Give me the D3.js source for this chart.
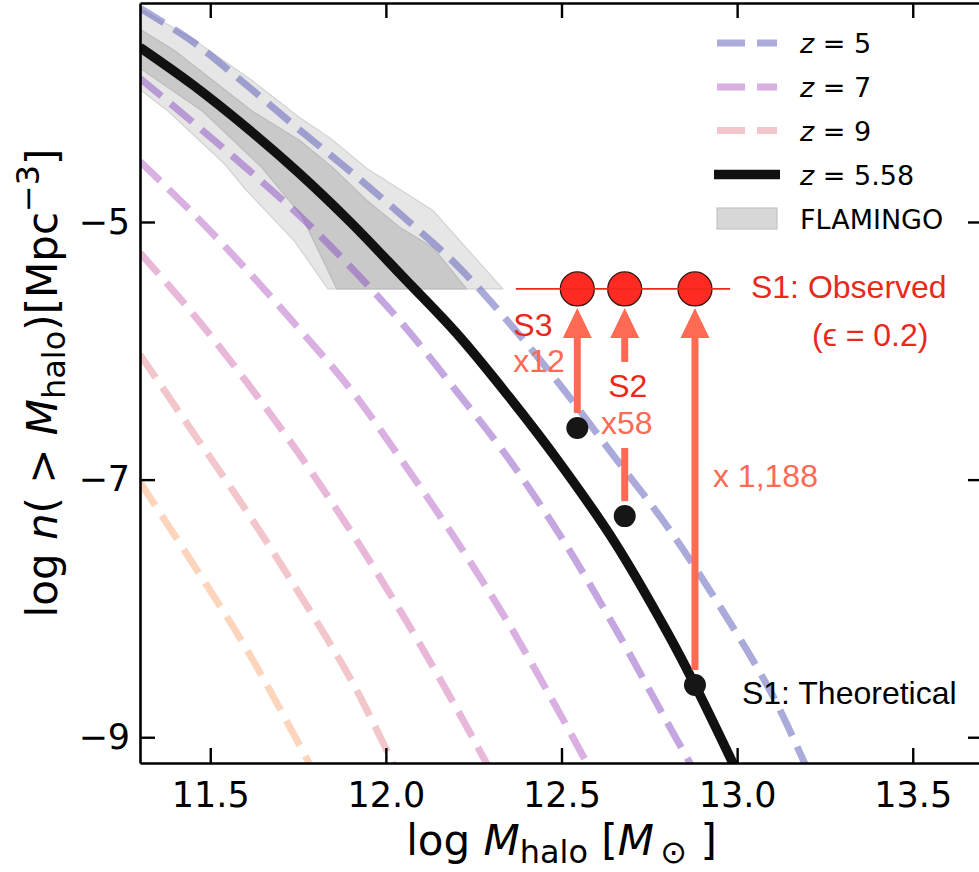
<!DOCTYPE html>
<html>
<head>
<meta charset="utf-8">
<script src="https://cdn.jsdelivr.net/npm/d3@7"></script>
<style>
  body { margin: 0; background: #fff; }
  svg { display: block; }
</style>
</head>
<body>
<svg id="chart" width="979" height="872"></svg>
<script>
// ---- Cumulative halo mass functions, log n(>M) [Mpc^-3] vs log M_halo [M_sun] ----
const massZ5  = [11.30, 11.45, 11.60, 11.75, 11.90, 12.05, 12.20, 12.35, 12.50, 12.65, 12.80, 12.95, 13.10, 13.20];
const densZ5  = [-3.34, -3.60, -3.93, -4.275, -4.61, -4.96, -5.33, -5.78, -6.28, -6.82, -7.36, -7.98, -8.67, -9.25];

const massZ6  = [11.30, 11.45, 11.60, 11.75, 11.90, 12.05, 12.20, 12.35, 12.50, 12.65, 12.80, 12.87];
const densZ6  = [-3.885, -4.225, -4.575, -4.94, -5.35, -5.80, -6.31, -6.84, -7.45, -8.14, -8.88, -9.22];

const massZ7  = [11.30, 11.45, 11.60, 11.75, 11.90, 12.05, 12.20, 12.35, 12.50, 12.58];
const densZ7  = [-4.53, -4.93, -5.36, -5.82, -6.30, -6.87, -7.47, -8.12, -8.84, -9.24];

const massZ8  = [11.30, 11.45, 11.60, 11.75, 11.90, 12.05, 12.20, 12.30];
const densZ8  = [-5.24, -5.71, -6.23, -6.79, -7.40, -8.06, -8.77, -9.27];

const massZ9  = [11.30, 11.45, 11.60, 11.75, 11.90, 12.02, 12.05];
const densZ9  = [-6.03, -6.63, -7.23, -7.87, -8.55, -9.20, -9.37];

const massZ10 = [11.30, 11.45, 11.60, 11.75, 11.80];
const densZ10 = [-7.02, -7.65, -8.30, -9.04, -9.30];

// z = 5.58 prediction
const massZ558 = [11.30, 11.45, 11.60, 11.75, 11.90, 12.05, 12.20, 12.35, 12.50, 12.65, 12.80, 12.88, 13.00];
const densZ558 = [-3.645, -3.935, -4.26, -4.614, -5.004, -5.43, -5.86, -6.355, -6.89, -7.48, -8.18, -8.595, -9.27];

// FLAMINGO ranges: [log M, log n] along the upper and lower edges
const flamingoOuterUpper = [[11.28, -3.31], [11.45, -3.58], [11.618, -3.90], [11.755, -4.19], [11.84, -4.345], [11.946, -4.585], [12.134, -4.911], [12.333, -5.52]];
const flamingoOuterLower = [[11.28, -3.93], [11.379, -4.136], [11.541, -4.55], [11.598, -4.74], [11.74, -5.15], [11.835, -5.52]];
const flamingoInnerUpper = [[11.28, -3.47], [11.399, -3.671], [11.618, -4.136], [11.755, -4.368], [11.849, -4.578], [11.946, -4.833], [12.04, -5.043], [12.134, -5.198], [12.23, -5.52]];
const flamingoInnerLower = [[11.28, -3.77], [11.476, -4.136], [11.647, -4.578], [11.76, -4.95], [11.86, -5.52]];

// Sources: observed abundance and the enhancement over the theoretical value
const sourceNames    = ["S3", "S2", "S1"];
const sourceMass     = [12.545, 12.68, 12.88];
const sourceFactor   = [12, 58, 1188];
const sourceFactorLabels = ["x12", "x58", "x 1,188"];
const observedLogN   = -5.52;
const observedSpan   = [12.37, 12.98];

// Axis ticks and legend entries
const xTicks = [11.5, 12.0, 12.5, 13.0, 13.5];
const yTicks = [-5, -7, -9];
const legendRedshifts = ["5", "7", "9"];

// ---------------- drawing ----------------
const svg = d3.select("#chart");
const box = { left: 140, top: 3, right: 983, bottom: 763 };

const x = d3.scaleLinear().domain([11.3, 13.7]).range([box.left, box.right]);
const y = d3.scaleLinear().domain([-9.2, -3.3]).range([box.bottom, box.top]);

svg.append("defs").append("clipPath").attr("id", "plotArea")
  .append("rect")
  .attr("x", box.left).attr("y", box.top)
  .attr("width", box.right - box.left).attr("height", box.bottom - box.top);

const plot = svg.append("g").attr("clip-path", "url(#plotArea)");

// FLAMINGO shaded ranges
const edge = d3.line().x(d => x(d[0])).y(d => y(d[1]));
function band(upper, lower, fill, stroke) {
  plot.append("path")
    .attr("d", edge(upper.concat(lower.slice().reverse())) + "Z")
    .attr("fill", fill).attr("stroke", stroke).attr("stroke-width", 1.2);
}
band(flamingoOuterUpper, flamingoOuterLower, "#e6e6e6", "#d3d3d3");
band(flamingoInnerUpper, flamingoInnerLower, "#c9c9c9", "#bcbcbc");

// dashed redshift curves
const curve = d3.line().x(d => x(d[0])).y(d => y(d[1])).curve(d3.curveCatmullRom.alpha(0.5));
const dashStyle = { width: 7, dash: "28,12", opacity: 0.5 };
const zCurves = [
  { m: massZ10, n: densZ10, color: "rgb(251,171,123)" },
  { m: massZ9,  n: densZ9,  color: "rgb(229,141,149)" },
  { m: massZ8,  n: densZ8,  color: "rgb(211,113,179)" },
  { m: massZ7,  n: densZ7,  color: "rgb(181,97,197)" },
  { m: massZ6,  n: densZ6,  color: "rgb(137,77,193)" },
  { m: massZ5,  n: densZ5,  color: "rgb(85,85,183)" }
];
zCurves.forEach(c => {
  plot.append("path")
    .attr("d", curve(d3.zip(c.m, c.n)))
    .attr("fill", "none")
    .attr("stroke", c.color)
    .attr("stroke-opacity", dashStyle.opacity)
    .attr("stroke-width", dashStyle.width)
    .attr("stroke-dasharray", dashStyle.dash);
});

// z = 5.58 solid curve
plot.append("path")
  .attr("d", curve(d3.zip(massZ558, densZ558)))
  .attr("fill", "none").attr("stroke", "#111").attr("stroke-width", 9.5);

// ---------------- axes ----------------
const tickFont = "'DejaVu Sans', sans-serif";
function styleAxis(g) {
  g.selectAll(".domain").attr("stroke", "#000").attr("stroke-width", 2.6);
  g.selectAll(".tick line").attr("stroke", "#000").attr("stroke-width", 2.4);
  g.selectAll(".tick text").attr("font-family", tickFont).attr("font-size", 35).attr("fill", "#000");
}
svg.append("g").attr("transform", `translate(0,${box.bottom})`)
  .call(d3.axisBottom(x).tickValues(xTicks).tickFormat(d3.format(".1f")).tickSize(-15).tickSizeOuter(0).tickPadding(19))
  .call(styleAxis);
svg.append("g").attr("transform", `translate(0,${box.top})`)
  .call(d3.axisTop(x).tickValues(xTicks).tickFormat("").tickSize(-15).tickSizeOuter(0))
  .call(styleAxis);
svg.append("g").attr("transform", `translate(${box.left},0)`)
  .call(d3.axisLeft(y).tickValues(yTicks).tickFormat(d3.format("d")).tickSize(-15).tickSizeOuter(0).tickPadding(10))
  .call(styleAxis);
svg.append("g").attr("transform", `translate(${box.right},0)`)
  .call(d3.axisRight(y).tickValues(yTicks).tickFormat("").tickSize(-15).tickSizeOuter(0))
  .call(styleAxis);

// math-style label built from tspans
function mathText(sel, parts, size) {
  let shift = 0;
  parts.forEach(p => {
    const target = p.sub ? 0.2 * size : p.sup ? -0.42 * size : 0;
    sel.append("tspan").text(p.t)
      .attr("font-size", (p.sub || p.sup) ? size * 0.76 : size)
      .attr("font-style", p.it ? "italic" : "normal")
      .attr("dy", target - shift);
    shift = target;
  });
}
const labelSize = 42;
const xLabel = svg.append("text")
  .attr("x", (box.left + box.right) / 2).attr("y", 855)
  .attr("text-anchor", "middle").attr("font-family", tickFont).attr("fill", "#000");
mathText(xLabel, [
  { t: "log " }, { t: "M", it: true }, { t: "halo", sub: true },
  { t: " [" }, { t: "M", it: true }, { t: "\u2009\u2299", sub: true }, { t: " ]" }
], labelSize);

const yLabel = svg.append("text")
  .attr("transform", `translate(57,${(box.top + box.bottom) / 2}) rotate(-90)`)
  .attr("text-anchor", "middle").attr("font-family", tickFont).attr("fill", "#000");
mathText(yLabel, [
  { t: "log " }, { t: "n", it: true }, { t: "( > " }, { t: "M", it: true },
  { t: "halo", sub: true }, { t: ")[Mpc" }, { t: "\u22123", sup: true }, { t: "]" }
], labelSize);

// ---------------- legend ----------------
const legend = svg.append("g").attr("font-family", tickFont).attr("font-size", 27);
const legendRows = [43, 87, 130.5, 174.5, 218.5];
const legendX = 717, legendLen = 60, legendTextX = 800;
const legendColors = [zCurves[5].color, zCurves[3].color, zCurves[1].color];
legendRedshifts.forEach((zv, i) => {
  legend.append("line")
    .attr("x1", legendX).attr("x2", legendX + legendLen)
    .attr("y1", legendRows[i]).attr("y2", legendRows[i])
    .attr("stroke", legendColors[i]).attr("stroke-opacity", dashStyle.opacity)
    .attr("stroke-width", dashStyle.width).attr("stroke-dasharray", dashStyle.dash);
  const t = legend.append("text").attr("x", legendTextX).attr("y", legendRows[i] + 10);
  t.append("tspan").attr("font-style", "italic").text("z");
  t.append("tspan").text(" = " + zv);
});
legend.append("line")
  .attr("x1", legendX - 3).attr("x2", legendX + legendLen + 3)
  .attr("y1", legendRows[3]).attr("y2", legendRows[3])
  .attr("stroke", "#111").attr("stroke-width", 9.5);
{
  const t = legend.append("text").attr("x", legendTextX).attr("y", legendRows[3] + 10);
  t.append("tspan").attr("font-style", "italic").text("z");
  t.append("tspan").text(" = 5.58");
}
legend.append("rect")
  .attr("x", legendX).attr("y", legendRows[4] - 10.5)
  .attr("width", legendLen).attr("height", 21)
  .attr("fill", "#d7d7d7").attr("stroke", "#c4c4c4").attr("stroke-width", 1.2);
legend.append("text").attr("x", legendTextX).attr("y", legendRows[4] + 10).text("FLAMINGO");

// ---------------- source annotations ----------------
const note = svg.append("g").attr("font-family", "'Liberation Sans', Arial, Helvetica, sans-serif").attr("font-size", 32);
const arrowColor = "#ff6a55", labelRed = "#e8291c";
const circleR = 17, dotR = 11, headLen = 30, headHalf = 14.5, shaftW = 7;
const yObs = y(observedLogN);

const sources = sourceNames.map((name, i) => ({
  name, m: sourceMass[i], factor: sourceFactor[i], label: sourceFactorLabels[i],
  theo: observedLogN - Math.log10(sourceFactor[i])
}));

// arrows from theoretical to observed abundance (S2's shaft is broken by its label)
sources.forEach(s => {
  const cx = x(s.m);
  const tip = yObs + circleR + 2;
  const base = tip + headLen;
  const start = y(s.theo) - dotR - 4;
  const segments = s.name === "S2"
    ? [[start, yObs + 159], [yObs + 73, base]]
    : [[start, base]];
  segments.forEach(([a, b]) => {
    note.append("line").attr("x1", cx).attr("x2", cx).attr("y1", a).attr("y2", b)
      .attr("stroke", arrowColor).attr("stroke-width", shaftW);
  });
  note.append("path")
    .attr("d", `M${cx},${tip}L${cx - headHalf},${base}L${cx + headHalf},${base}Z`)
    .attr("fill", arrowColor);
});

// observed points and the level they share
sources.forEach(s => {
  note.append("circle").attr("cx", x(s.m)).attr("cy", yObs).attr("r", circleR)
    .attr("fill", "#ff2a22").attr("stroke", "#3a1410").attr("stroke-width", 1.3);
});
note.append("line")
  .attr("x1", x(observedSpan[0])).attr("x2", x(observedSpan[1]))
  .attr("y1", yObs).attr("y2", yObs)
  .attr("stroke", "#f0281c").attr("stroke-width", 1.8);

// theoretical points
sources.forEach(s => {
  note.append("circle").attr("cx", x(s.m)).attr("cy", y(s.theo)).attr("r", dotR)
    .attr("fill", "#161616");
});

// text
const [s3, s2, s1] = sources;
note.append("text").attr("x", x(s1.m) + 56).attr("y", yObs + 9).attr("fill", labelRed).text("S1: Observed");
note.append("text").attr("x", x(s1.m) + 117).attr("y", yObs + 57).attr("fill", labelRed).text("(\u03f5 = 0.2)");
note.append("text").attr("x", x(s3.m) - 64).attr("y", yObs + 47).attr("fill", labelRed).text(s3.name);
note.append("text").attr("x", x(s3.m) - 64).attr("y", yObs + 83).attr("fill", arrowColor).text(s3.label);
note.append("text").attr("x", x(s2.m) + 3).attr("y", yObs + 108).attr("text-anchor", "middle").attr("fill", labelRed).text(s2.name);
note.append("text").attr("x", x(s2.m) + 2).attr("y", yObs + 145).attr("text-anchor", "middle").attr("fill", arrowColor).text(s2.label);
note.append("text").attr("x", x(s1.m) + 18).attr("y", yObs + 198).attr("fill", arrowColor).text(s1.label);
note.append("text").attr("x", x(s1.m) + 47).attr("y", y(s1.theo) + 19).attr("fill", "#000").text("S1: Theoretical");
</script>
</body>
</html>
